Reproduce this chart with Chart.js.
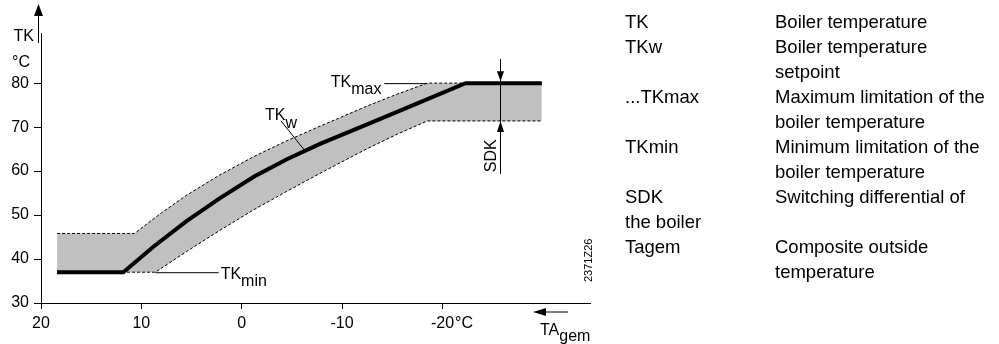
<!DOCTYPE html>
<html>
<head>
<meta charset="utf-8">
<script src="https://cdn.jsdelivr.net/npm/chart.js@4"></script>
<style>
  body { margin: 0; background: #fff; }
  #wrap { position: relative; width: 999px; height: 344px; }
  #chart { position: absolute; left: 0; top: 0; }
  #legend { position: absolute; left: 625px; top: 9px; font: 18.5px "Liberation Sans", Arial, sans-serif;
            line-height: 25px; color: #000; white-space: nowrap; }
  #legend .row { display: flex; height: 25px; }
  #legend .k { width: 150px; }
</style>
</head>
<body>
<div id="wrap">
  <canvas id="chart" width="999" height="344"></canvas>
  <div id="legend"></div>
</div>
<script>
// Boiler temperature TK against composite outside temperature TAgem
const xTicks = [20, 10, 0, -10, -20];
const yTicks = [30, 40, 50, 60, 70, 80];

// setpoint TKw (thick line)
const setpointX = [18.4, 11.8, 8.8, 5.5, 2.2, -1.2, -4.5, -7.8, -12.5, -17.5, -22.3, -29.9];
const setpointY = [37, 37, 42.8, 48.6, 53.8, 58.7, 62.7, 66.2, 70.6, 75.4, 80, 80];

// upper and lower edge of the grey band
const upperX = [18.4, 10.7, 8.0, 5.5, 2.2, -1.2, -4.5, -7.8, -12.5, -15.5, -18.5, -22.3, -29.9];
const upperY = [45.8, 45.8, 50.5, 54.5, 59.1, 63.3, 66.9, 70.2, 74.8, 77.5, 80, 80, 80];
const lowerX = [18.4, 11.8, 8.6, 5.5, 2.2, -1.2, -4.5, -7.8, -12.5, -15.5, -18.5, -29.9];
const lowerY = [37, 37, 37, 41.7, 46.5, 51.2, 55.4, 59.5, 65.1, 68.4, 71.4, 71.4];

// annotation anchors, in data units
const tkMin = 37;
const tkMax = 80;
const sdkLow = 71.4;
const tkwAnchor = [-6.3, 64.6];
const tkmaxLeader = [-18.5, -14.2];
const tkminLeader = [8.6, 2.3];
const sdkX = -25.7;
const sdkSpan = [85.5, 59.3];

const legendRows = [
  ['TK', 'Boiler temperature'],
  ['TKw', 'Boiler temperature'],
  ['', 'setpoint'],
  ['...TKmax', 'Maximum limitation of the'],
  ['', 'boiler temperature'],
  ['TKmin', 'Minimum limitation of the'],
  ['', 'boiler temperature'],
  ['SDK', 'Switching differential of'],
  ['the boiler', ''],
  ['Tagem', 'Composite outside'],
  ['', 'temperature']
];

const FONT = '"Liberation Sans", Arial, sans-serif';
const pts = (xs, ys) => xs.map((x, i) => ({ x: x, y: ys[i] }));

// legend as html text
const legendEl = document.getElementById('legend');
legendRows.forEach(r => {
  const row = document.createElement('div');
  row.className = 'row';
  const k = document.createElement('div');
  k.className = 'k';
  k.textContent = r[0];
  const v = document.createElement('div');
  v.textContent = r[1];
  row.appendChild(k);
  row.appendChild(v);
  legendEl.appendChild(row);
});

function line(ctx, x1, y1, x2, y2){
  ctx.beginPath();
  ctx.moveTo(x1, y1);
  ctx.lineTo(x2, y2);
  ctx.stroke();
}

function tri(ctx, a, b, c){
  ctx.beginPath();
  ctx.moveTo(a[0], a[1]);
  ctx.lineTo(b[0], b[1]);
  ctx.lineTo(c[0], c[1]);
  ctx.closePath();
  ctx.fill();
}

// text with a subscript, left aligned at x
function subText(ctx, main, sub, x, y, drop){
  ctx.textAlign = 'left';
  ctx.textBaseline = 'alphabetic';
  ctx.fillText(main, x, y);
  ctx.fillText(sub, x + ctx.measureText(main).width, y + drop);
}

const annotations = {
  id: 'annotations',
  afterDraw(chart){
    const ctx = chart.ctx;
    const xs = chart.scales.x, ys = chart.scales.y;
    const px = v => xs.getPixelForValue(v);
    const py = v => ys.getPixelForValue(v);
    const area = chart.chartArea;
    ctx.save();
    ctx.fillStyle = '#000';
    ctx.strokeStyle = '#000';
    ctx.lineWidth = 1;
    ctx.font = '16px ' + FONT;

    // y axis arrow and unit
    const ax = area.left - 2.5;
    line(ctx, ax, 14, ax, area.top + 10);
    tri(ctx, [ax, 4], [ax - 4.5, 16], [ax + 4.5, 16]);
    ctx.textAlign = 'right';
    ctx.fillText('TK', 34, 41);
    ctx.textAlign = 'left';
    ctx.fillText('°C', 12, 67);

    // °C after the -20 tick label
    ctx.textBaseline = 'middle';
    const ly = xs.top + 6 + 5 + 16 * 1.2 / 2;
    ctx.fillText('°C', px(-20) + ctx.measureText('-20').width / 2 + 1, ly);

    // TAgem arrow
    const ay = area.bottom + 9;
    line(ctx, area.right - 48, ay, area.right - 22, ay);
    tri(ctx, [area.right - 57, ay], [area.right - 44, ay - 4], [area.right - 44, ay + 4]);
    subText(ctx, 'TA', 'gem', area.right - 50, area.bottom + 32, 6);

    // TKw leader
    const wx = px(tkwAnchor[0]), wy = py(tkwAnchor[1]);
    line(ctx, wx, wy, wx - 24, wy - 30);
    subText(ctx, 'TK', 'w', wx - 40, wy - 30.5, 7.5);

    // TKmax leader
    const my = py(tkMax) + 0.5;
    line(ctx, px(tkmaxLeader[0]), my, px(tkmaxLeader[1]), my);
    const tkW = ctx.measureText('TK').width;
    subText(ctx, 'TK', 'max', px(tkmaxLeader[1]) - 33 - tkW, my + 3, 7);

    // TKmin leader
    const ny = py(tkMin) + 0.5;
    line(ctx, px(tkminLeader[0]), ny, px(tkminLeader[1]), ny);
    subText(ctx, 'TK', 'min', px(tkminLeader[1]) + 2, ny + 6, 7);

    // SDK marker
    const sx = Math.round(px(sdkX)) + 0.5;
    const top80 = py(tkMax) - 2;
    const lowY = py(sdkLow);
    line(ctx, sx, py(sdkSpan[0]), sx, py(sdkSpan[1]));
    tri(ctx, [sx, top80], [sx - 3.5, top80 - 10], [sx + 3.5, top80 - 10]);
    tri(ctx, [sx, lowY], [sx - 3.5, lowY + 11], [sx + 3.5, lowY + 11]);
    ctx.save();
    ctx.translate(sx - 9, py(sdkSpan[1]) - 2);
    ctx.rotate(-Math.PI / 2);
    ctx.textAlign = 'left';
    ctx.textBaseline = 'middle';
    ctx.fillText('SDK', 0, 0);
    ctx.restore();

    // drawing number
    ctx.save();
    ctx.font = '11px ' + FONT;
    ctx.translate(area.right - 1, 282);
    ctx.rotate(-Math.PI / 2);
    ctx.textAlign = 'left';
    ctx.textBaseline = 'middle';
    ctx.fillText('2371Z26', 0, 0);
    ctx.restore();

    ctx.restore();
  }
};

const tickFont = { family: FONT, size: 16 };

new Chart(document.getElementById('chart'), {
  type: 'line',
  data: {
    datasets: [
      {
        label: 'TKw',
        data: pts(setpointX, setpointY),
        borderColor: '#000',
        borderWidth: 4,
        borderJoinStyle: 'miter',
        pointRadius: 0,
        tension: 0,
        fill: false
      },
      {
        label: 'upper',
        data: pts(upperX, upperY),
        borderColor: '#000',
        borderWidth: 1,
        borderDash: [3, 2],
        pointRadius: 0,
        tension: 0,
        fill: '+1',
        backgroundColor: '#c0c0c0'
      },
      {
        label: 'lower',
        data: pts(lowerX, lowerY),
        borderColor: '#000',
        borderWidth: 1,
        borderDash: [3, 2],
        pointRadius: 0,
        tension: 0,
        fill: false
      }
    ]
  },
  options: {
    responsive: false,
    animation: false,
    events: [],
    layout: { padding: { top: 33, right: 409, left: 0, bottom: 0 } },
    plugins: {
      legend: { display: false },
      tooltip: { enabled: false },
      filler: { drawTime: 'beforeDatasetsDraw' }
    },
    scales: {
      x: {
        type: 'linear',
        reverse: true,
        min: -34.7,
        max: 20,
        afterBuildTicks: s => { s.ticks = xTicks.map(v => ({ value: v })); },
        afterFit: s => { s.height = 41; },
        border: { color: '#000', width: 1 },
        grid: { drawOnChartArea: false, color: '#000', tickLength: 6 },
        ticks: { color: '#000', font: tickFont, padding: 5, maxRotation: 0, autoSkip: false,
                 callback: v => String(v) }
      },
      y: {
        type: 'linear',
        min: 30,
        max: 91.4,
        afterBuildTicks: s => { s.ticks = yTicks.map(v => ({ value: v })); },
        afterFit: s => { s.width = 41; },
        border: { color: '#000', width: 1 },
        grid: { drawOnChartArea: false, color: '#000', tickLength: 7 },
        ticks: { color: '#000', font: tickFont, padding: 5, autoSkip: false,
                 callback: v => String(v) }
      }
    }
  },
  plugins: [annotations]
});
</script>
</body>
</html>
